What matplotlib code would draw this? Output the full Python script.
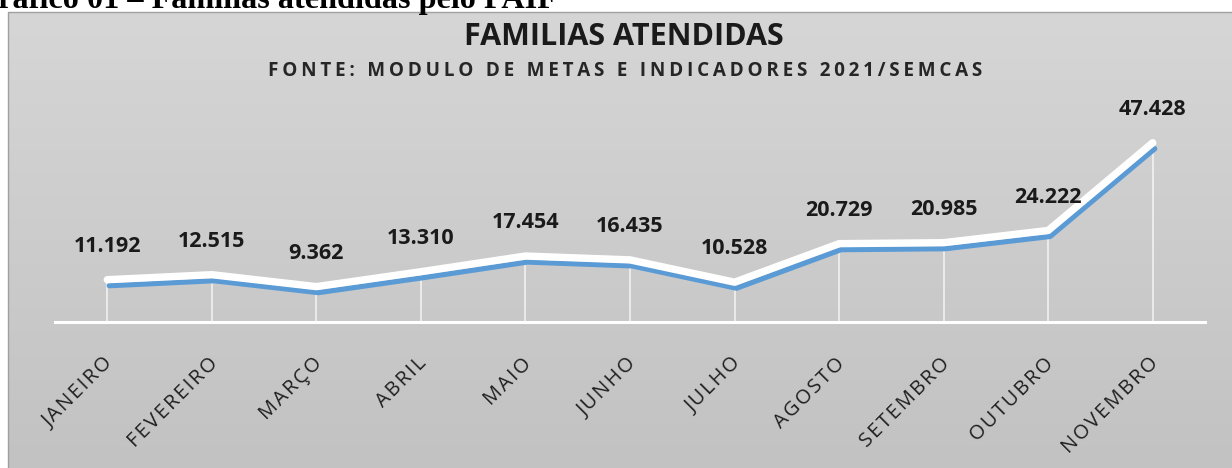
import matplotlib
matplotlib.use("Agg")
import matplotlib.pyplot as plt
import numpy as np
from matplotlib.transforms import ScaledTranslation
from matplotlib.patches import Rectangle

# ---- data ----
months = ["JANEIRO", "FEVEREIRO", "MARÇO", "ABRIL", "MAIO", "JUNHO",
          "JULHO", "AGOSTO", "SETEMBRO", "OUTUBRO", "NOVEMBRO"]
families = [11192, 12515, 9362, 13310, 17454, 16435, 10528, 20729, 20985, 24222, 47428]
title = "FAMILIAS ATENDIDAS"
subtitle = "FONTE: MODULO DE METAS E INDICADORES 2021/SEMCAS"
caption = "Gráfico 01 – Famílias atendidas pelo PAIF"

W, H, DPI = 1232, 468, 100
FAM = ["Open Sans", "DejaVu Sans"]
THIN = "\u2009"
HAIR = "\u200a"

def spaced(s, sep=THIN):
    return sep.join(list(s))

fig = plt.figure(figsize=(W / DPI, H / DPI), dpi=DPI)
fig.patch.set_facecolor("white")

# background frame with vertical gradient
bg = fig.add_axes([0, 0, 1, 1])
bg.set_xlim(0, W)
bg.set_ylim(H, 0)
bg.axis("off")
grad = np.linspace(0, 1, 256).reshape(-1, 1)
top_c = np.array([214, 214, 214]) / 255
bot_c = np.array([194, 194, 194]) / 255
img = top_c[None, None, :] * (1 - grad[:, :, None]) + bot_c[None, None, :] * grad[:, :, None]
bg.imshow(img, extent=[8, W + 2, H + 2, 12], aspect="auto", zorder=0)
bg.add_patch(Rectangle((8, 12), W, H, fill=False, edgecolor="#a0a0a0", lw=1.0, zorder=1))

# caption (partially clipped at top, as in the source page)
fig.text(557 / W, 1 - 8 / H, caption, ha="right", va="baseline",
         fontsize=23.2, fontweight="bold", family=["Liberation Serif", "DejaVu Serif"],
         color="black")

# titles
fig.text(624 / W, 1 - 37 / H, title, ha="center", va="center", fontsize=22,
         fontweight="bold", family=FAM, color="#1a1a1a")
fig.text(625 / W, 1 - 71 / H, spaced(subtitle), ha="center", va="center", fontsize=13.6,
         fontweight="bold", family=FAM, color="#262626")

# main axes
ax_left, ax_right, ax_bottom, ax_top = 55, 1205, 322, 133
ax = fig.add_axes([ax_left / W, (H - ax_bottom) / H, (ax_right - ax_left) / W,
                   (ax_bottom - ax_top) / H])
ax.patch.set_alpha(0)
ax.set_xlim(-0.5, len(months) - 0.5)
ax.set_ylim(0, 50000)
for s in ["left", "right", "top"]:
    ax.spines[s].set_visible(False)
ax.spines["bottom"].set_color("white")
ax.spines["bottom"].set_linewidth(2.2)
ax.set_yticks([])

x = np.arange(len(months))

# drop lines
ax.vlines(x, 0, families, colors="white", lw=1.1, alpha=0.8, zorder=1)

# blue shadow line (offset down-right), then white line on top
shadow = ax.transData + ScaledTranslation(2 / DPI, -6 / DPI, fig.dpi_scale_trans)
ax.plot(x, families, color="#5b9bd5", lw=3.8, transform=shadow,
        solid_joinstyle="round", solid_capstyle="round", zorder=2, clip_on=False)
ax.plot(x, families, color="white", lw=5.3,
        solid_joinstyle="round", solid_capstyle="round", zorder=3, clip_on=False)

# data labels
for xi, v in zip(x, families):
    ax.annotate(f"{v:,}".replace(",", "."), (xi, v), xytext=(0, 24),
                textcoords="offset points", ha="center", va="center",
                fontsize=15.5, fontweight="bold", family=FAM, color="#1a1a1a",
                annotation_clip=False)

# month labels
ax.set_xticks(x)
ax.set_xticklabels([spaced(m, HAIR) for m in months], rotation=45, ha="right", va="center",
                   rotation_mode="anchor", fontsize=14.5, family=FAM, color="#1f1f1f")
ax.tick_params(axis="x", length=0, pad=28)
off = ScaledTranslation(3 / DPI, 0, fig.dpi_scale_trans)
for lab in ax.get_xticklabels():
    lab.set_transform(lab.get_transform() + off)

fig.savefig("out.png", dpi=DPI)
